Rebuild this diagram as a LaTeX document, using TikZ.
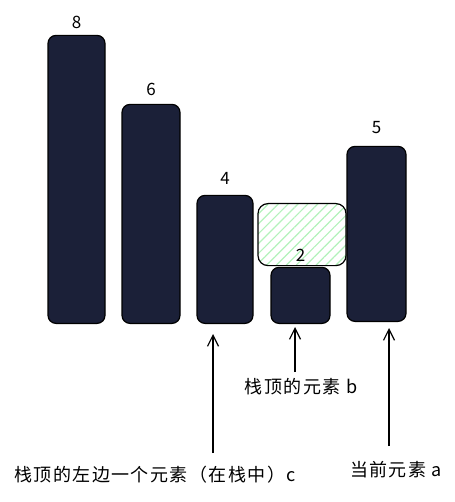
\documentclass[tikz,border=0pt]{standalone}
\usepackage{fontspec}
\setmainfont{Noto Sans CJK SC}
\newfontfamily\labelfont[LetterSpace=8]{Noto Sans CJK SC}
\usetikzlibrary{arrows.meta,patterns.meta}

\definecolor{barfill}{HTML}{1B2038}
\definecolor{hatchgreen}{HTML}{B2F2BB}

\tikzset{
  bar/.style={draw=black, line width=1.2pt, fill=barfill, rounded corners=8pt,
    anchor=south, inner sep=0pt},
  topbox/.style={draw=black, line width=1.2pt, rounded corners=10pt, anchor=north,
    inner sep=0pt, pattern={Lines[angle=45,distance=7pt,line width=1.2pt]},
    pattern color=hatchgreen},
  arr/.style={-{Straight Barb[length=11pt,width=11pt]}, line width=1.2pt},
  note/.style={font=\labelfont\fontsize{18}{20}\selectfont},
}

\begin{document}
\begin{tikzpicture}[x=1pt, y=-1pt, font=\fontsize{17}{19}\selectfont]
  \useasboundingbox (0,0) rectangle (454,502);

    \node[bar, minimum width=57pt, minimum height=288pt, label={[yshift=3pt]above:8}] (b8) at (76.5,324) {};
    \node[bar, minimum width=58pt, minimum height=219pt, label={[yshift=5pt]above:6}] (b6) at (151,324) {};
    \node[bar, minimum width=56pt, minimum height=128pt, label={[yshift=7pt]above:4}] (b4) at (225,324) {};
    \node[topbox, minimum width=88pt, minimum height=62pt] (top) at (302,203) {};
    \node[bar, minimum width=59pt, minimum height=56pt, label={[yshift=2pt]above:2}] (b2) at (300.5,324) {};
    \node[bar, minimum width=59pt, minimum height=175pt, label={[yshift=9pt]above:5}] (b5) at (376.5,322) {};

    \node[note] (lb) at (301,387) {栈顶的元素 b};
    \node[note] (lc) at (155,475) {栈顶的左边一个元素（在栈中）c};
    \node[note] (la) at (396,470) {当前元素 a};

    \coordinate (tc) at (213,453);
    \coordinate (tb) at (295,372);
    \coordinate (ta) at (389,446);

    \draw[arr, shorten >=10pt] (tc) -- (tc |- b4.south);
    \draw[arr, shorten >=3pt] (tb) -- (tb |- b2.south);
    \draw[arr, shorten >=6pt] (ta) -- (ta |- b5.south);

\end{tikzpicture}
\end{document}
